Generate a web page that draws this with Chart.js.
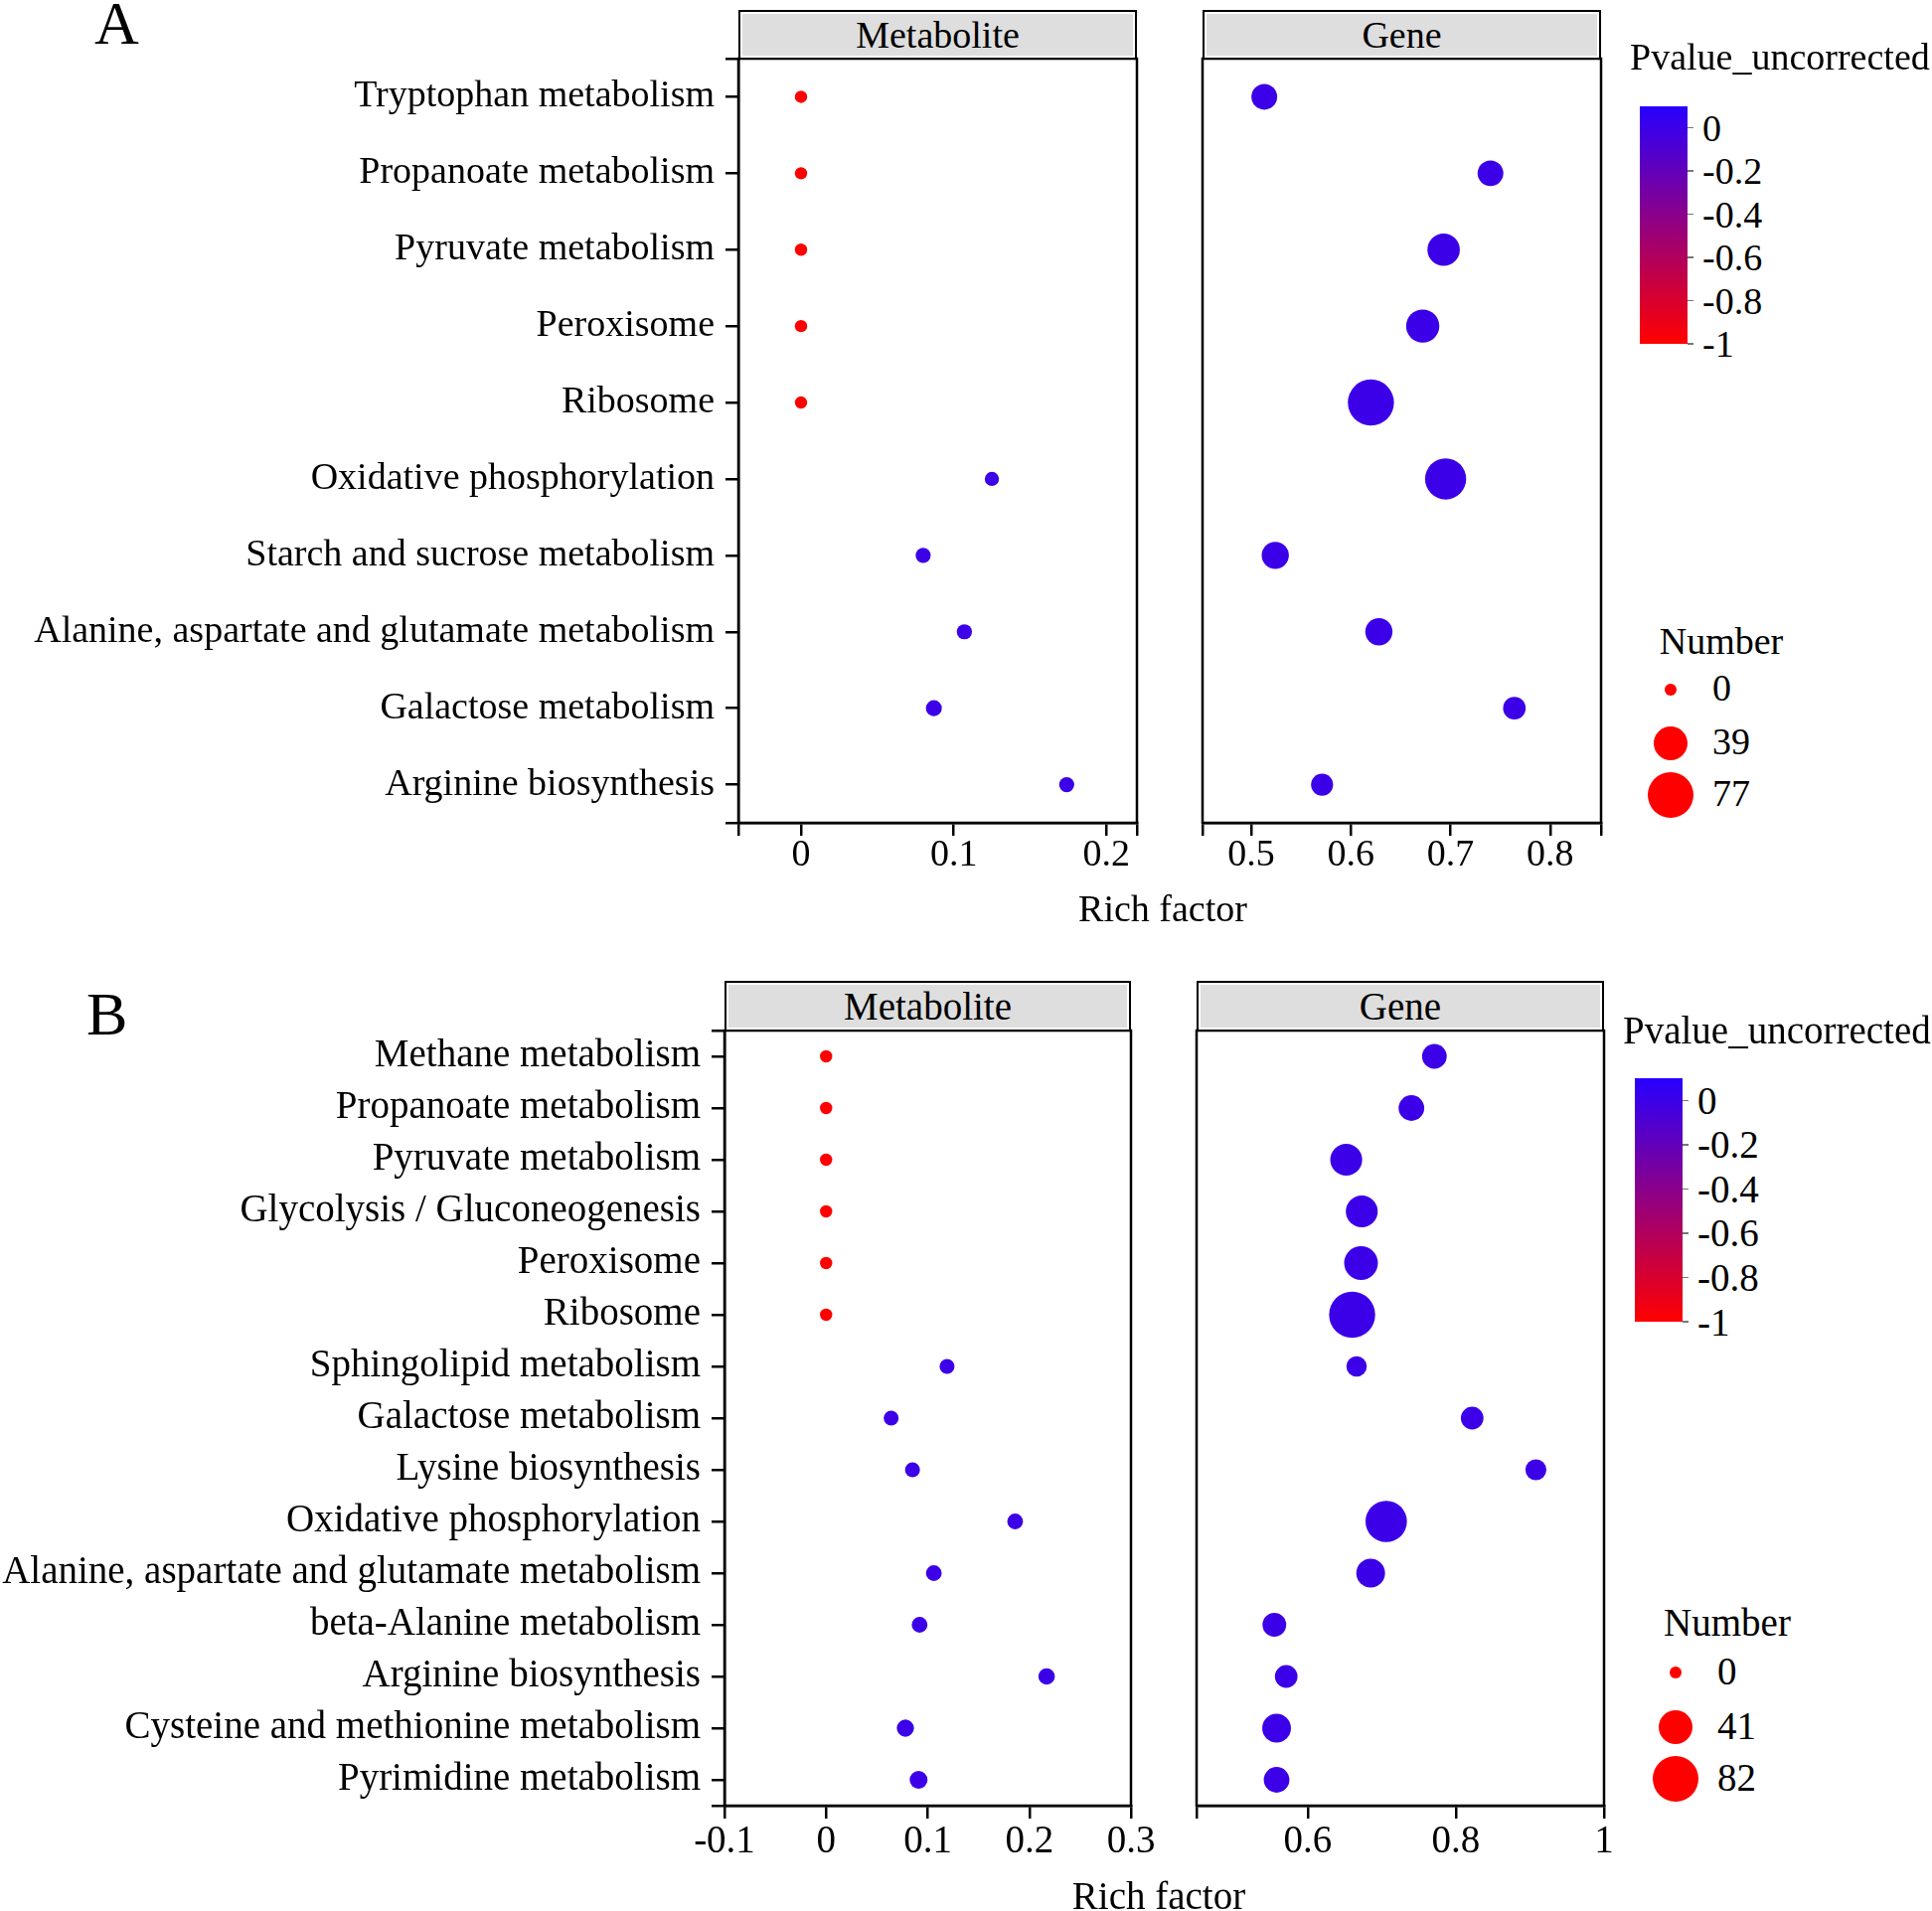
<!DOCTYPE html>
<html>
<head>
<meta charset="utf-8">
<title>Rich factor bubble chart</title>
<script src="https://cdn.jsdelivr.net/npm/chart.js@4.4.1/dist/chart.umd.min.js"></script>
<style>
  body { margin: 0; background: #fff; }
  #page { position: relative; width: 1944px; height: 1923px; overflow: hidden;
          font-family: "Liberation Serif", "Times New Roman", serif; color: #000; }
  #page canvas { position: absolute; }
  .txt { position: absolute; white-space: nowrap; line-height: 1; }
  .strip { position: absolute; box-sizing: border-box; border: 2.5px solid #000;
           box-shadow: inset 0 0 0 2px #fff; background: #dedede;
           display: flex; align-items: center; justify-content: center; line-height: 1; }
  .bar { position: absolute; background: linear-gradient(to bottom, rgb(40,0,255), rgb(255,0,0)); }
  .tick { position: absolute; height: 1.5px; width: 6px; background: #777; }
  .dot { position: absolute; border-radius: 50%; background: #ff0000; }
</style>
</head>
<body>
<div id="page"></div>
<script>
// ---- panel A data
const catsA = ["Tryptophan metabolism", "Propanoate metabolism", "Pyruvate metabolism", "Peroxisome",
  "Ribosome", "Oxidative phosphorylation", "Starch and sucrose metabolism",
  "Alanine, aspartate and glutamate metabolism", "Galactose metabolism", "Arginine biosynthesis"];
const metRichA = [0, 0, 0, 0, 0, 0.125, 0.080, 0.107, 0.087, 0.174];
const metNumA = [0, 0, 0, 0, 0, 2, 3, 3, 4, 3];
const metPA = [-1, -1, -1, -1, -1, 0, 0, 0, 0, 0];
const geneRichA = [0.513, 0.740, 0.693, 0.672, 0.620, 0.695, 0.524, 0.628, 0.764, 0.571];
const geneNumA = [20, 20, 35, 37, 77, 60, 23, 23, 14, 13];
const genePA = [0, 0, 0, 0, 0, 0, 0, 0, 0, 0];
const numBreaksA = [0, 39, 77];

// ---- panel B data
const catsB = ["Methane metabolism", "Propanoate metabolism", "Pyruvate metabolism",
  "Glycolysis / Gluconeogenesis", "Peroxisome", "Ribosome", "Sphingolipid metabolism",
  "Galactose metabolism", "Lysine biosynthesis", "Oxidative phosphorylation",
  "Alanine, aspartate and glutamate metabolism", "beta-Alanine metabolism",
  "Arginine biosynthesis", "Cysteine and methionine metabolism", "Pyrimidine metabolism"];
const metRichB = [0, 0, 0, 0, 0, 0, 0.119, 0.064, 0.085, 0.186, 0.106, 0.092, 0.217, 0.078, 0.091];
const metNumB = [0, 0, 0, 0, 0, 0, 3, 3, 3, 4, 4, 4, 5, 6, 7];
const metPB = [-1, -1, -1, -1, -1, -1, 0, 0, 0, 0, 0, 0, 0, 0, 0];
const geneRichB = [0.771, 0.740, 0.652, 0.673, 0.672, 0.660, 0.666, 0.822, 0.908, 0.706, 0.685, 0.555, 0.571, 0.558, 0.558];
const geneNumB = [19, 21, 36, 36, 41, 82, 11, 15, 12, 65, 28, 17, 15, 28, 21];
const genePB = [0, 0, 0, 0, 0, 0, 0, 0, 0, 0, 0, 0, 0, 0, 0];
const numBreaksB = [0, 41, 82];

const pBreaks = [0, -0.2, -0.4, -0.6, -0.8, -1];

Chart.defaults.font.family = "'Liberation Serif', 'Times New Roman', serif";
Chart.defaults.color = '#000';

const page = document.getElementById('page');

function addText(str, x, y, size, align) {
  const d = document.createElement('div');
  d.className = 'txt';
  d.textContent = str;
  d.style.fontSize = size + 'px';
  d.style.left = x + 'px';
  d.style.top = (y - size / 2) + 'px';
  if (align === 'center') d.style.transform = 'translateX(-50%)';
  page.appendChild(d);
}

function sizeScale(n, nMax) {
  const rMin = 6.2, rMax = 23.2;
  return Math.sqrt(rMin * rMin + (rMax * rMax - rMin * rMin) * n / nMax);
}

// colour bar runs from -1 (red) up to 0.1 (blue)
function pColor(p) {
  const t = (p + 1) / 1.1;
  return 'rgb(' + Math.round(255 - 215 * t) + ',0,' + Math.round(255 * t) + ')';
}

function fmt(v) { return String(Math.round(v * 10) / 10); }
function isBreak(v, list) { return list.some(b => Math.abs(b - v) < 1e-9); }
function withEnds(list, min, max) {
  const vals = [min];
  list.concat([max]).forEach(v => { if (!isBreak(v, vals)) vals.push(v); });
  return vals.sort((a, b) => a - b).map(v => ({ value: v }));
}

const framePlugin = {
  id: 'frame',
  afterDraw(chart) {
    const { ctx, chartArea: a } = chart;
    ctx.save();
    ctx.strokeStyle = '#000';
    ctx.lineWidth = 2.5;
    ctx.strokeRect(a.left, a.top, a.right - a.left, a.bottom - a.top);
    ctx.restore();
  }
};

function drawPanel(cfg) {
  const bx = cfg.box;
  const [L, T, R, B] = cfg.area;
  const c = document.createElement('canvas');
  c.width = bx[2];
  c.height = bx[3];
  c.style.left = bx[0] + 'px';
  c.style.top = bx[1] + 'px';
  page.appendChild(c);

  const pts = cfg.rich.map((v, i) => ({ x: v, y: i + 1, r: sizeScale(cfg.num[i], cfg.nMax) }));
  const n = cfg.cats.length;

  new Chart(c, {
    type: 'bubble',
    data: {
      datasets: [{
        data: pts,
        backgroundColor: cfg.pval.map(pColor),
        borderWidth: 0,
        hoverBorderWidth: 0
      }]
    },
    options: {
      responsive: false,
      animation: false,
      devicePixelRatio: 1,
      layout: {
        padding: { left: cfg.showY ? 0 : L - bx[0], top: T - bx[1], right: bx[0] + bx[2] - R, bottom: 0 }
      },
      plugins: { legend: { display: false }, tooltip: { enabled: false } },
      scales: {
        x: {
          type: 'linear',
          min: cfg.xMin,
          max: cfg.xMax,
          afterBuildTicks: s => { s.ticks = withEnds(cfg.xBreaks, cfg.xMin, cfg.xMax); },
          afterFit: s => { s.height = bx[1] + bx[3] - B; },
          ticks: {
            callback: v => isBreak(v, cfg.xBreaks) ? fmt(v) : '',
            font: { size: cfg.font }, padding: cfg.xPad, autoSkip: false, maxRotation: 0
          },
          grid: { drawOnChartArea: false, tickLength: 13, color: '#000', lineWidth: 2.5 },
          border: { color: '#000', width: 2.5 }
        },
        y: {
          type: 'linear',
          reverse: true,
          min: 0.5,
          max: n + 0.5,
          display: cfg.showY,
          afterBuildTicks: s => {
            const t = [{ value: 0.5 }];
            for (let i = 1; i <= n; i++) t.push({ value: i });
            t.push({ value: n + 0.5 });
            s.ticks = t;
          },
          afterFit: s => { s.width = cfg.showY ? L - bx[0] : 0; },
          ticks: {
            callback: v => Number.isInteger(v) ? cfg.cats[v - 1] : '',
            font: { size: cfg.font }, padding: 11, autoSkip: false
          },
          grid: { drawOnChartArea: false, tickLength: 13, color: '#000', lineWidth: 2.5 },
          border: { color: '#000', width: 2.5 }
        }
      }
    },
    plugins: [framePlugin]
  });
}

function addStrip(label, x, y, w, h, size) {
  const d = document.createElement('div');
  d.className = 'strip';
  d.textContent = label;
  d.style.left = x + 'px';
  d.style.top = y + 'px';
  d.style.width = w + 'px';
  d.style.height = h + 'px';
  d.style.fontSize = size + 'px';
  page.appendChild(d);
}

function drawLegend(cfg) {
  addText('Pvalue_uncorrected', cfg.titleX, cfg.titleY, cfg.font, 'left');
  const [bxx, by, bw, bh] = cfg.bar;
  const bar = document.createElement('div');
  bar.className = 'bar';
  bar.style.left = bxx + 'px';
  bar.style.top = by + 'px';
  bar.style.width = bw + 'px';
  bar.style.height = bh + 'px';
  page.appendChild(bar);
  pBreaks.forEach(v => {
    const ty = by + (0.1 - v) / 1.1 * bh;
    const tk = document.createElement('div');
    tk.className = 'tick';
    tk.style.left = (bxx + bw) + 'px';
    tk.style.top = (ty - 0.75) + 'px';
    page.appendChild(tk);
    addText(fmt(v), bxx + bw + 15, ty, cfg.font, 'left');
  });

  addText('Number', cfg.numX, cfg.numY, cfg.font, 'center');
  cfg.sizes.forEach((s, i) => {
    const r = sizeScale(s, cfg.nMax);
    const d = document.createElement('div');
    d.className = 'dot';
    d.style.left = (cfg.dotX - r) + 'px';
    d.style.top = (cfg.rows[i] - r) + 'px';
    d.style.width = d.style.height = (2 * r) + 'px';
    page.appendChild(d);
    addText(String(s), cfg.labX, cfg.rows[i] - 2, cfg.font, 'left');
  });
}

// ---- panel A
drawPanel({ box: [0, 0, 1170, 900], area: [743, 59, 1144, 828], cats: catsA, rich: metRichA,
  num: metNumA, pval: metPA, nMax: 77, xMin: -0.041, xMax: 0.22, xBreaks: [0, 0.1, 0.2],
  showY: true, font: 38, xPad: -3 });
drawPanel({ box: [1180, 0, 470, 900], area: [1210, 59, 1611, 828], cats: catsA, rich: geneRichA,
  num: geneNumA, pval: genePA, nMax: 77, xMin: 0.451, xMax: 0.851, xBreaks: [0.5, 0.6, 0.7, 0.8],
  showY: false, font: 38, xPad: -3 });
addStrip('Metabolite', 743, 10, 401, 50, 38);
addStrip('Gene', 1210, 10, 401, 50, 38);
addText('A', 95, 22.5, 62, 'left');
addText('Rich factor', 1170, 914, 38, 'center');
drawLegend({ titleX: 1640, titleY: 57, bar: [1650, 107, 48, 239], font: 38,
  numX: 1732, numY: 645, sizes: numBreaksA, nMax: 77, dotX: 1681, rows: [694, 748, 800], labX: 1723 });

// ---- panel B
drawPanel({ box: [0, 960, 1170, 940], area: [729, 1037, 1138, 1817], cats: catsB, rich: metRichB,
  num: metNumB, pval: metPB, nMax: 82, xMin: -0.1, xMax: 0.3, xBreaks: [-0.1, 0, 0.1, 0.2, 0.3],
  showY: true, font: 39, xPad: 0 });
drawPanel({ box: [1175, 960, 470, 940], area: [1204, 1037, 1614, 1817], cats: catsB, rich: geneRichB,
  num: geneNumB, pval: genePB, nMax: 82, xMin: 0.45, xMax: 1.0, xBreaks: [0.6, 0.8, 1.0],
  showY: false, font: 39, xPad: 0 });
addStrip('Metabolite', 729, 987, 409, 51, 39);
addStrip('Gene', 1204, 987, 410, 51, 39);
addText('B', 87, 1020, 62, 'left');
addText('Rich factor', 1166, 1907, 39, 'center');
drawLegend({ titleX: 1633, titleY: 1036, bar: [1645, 1085, 48, 245], font: 39,
  numX: 1738, numY: 1632, sizes: numBreaksB, nMax: 82, dotX: 1686, rows: [1683, 1738, 1790], labX: 1728 });
</script>
</body>
</html>
